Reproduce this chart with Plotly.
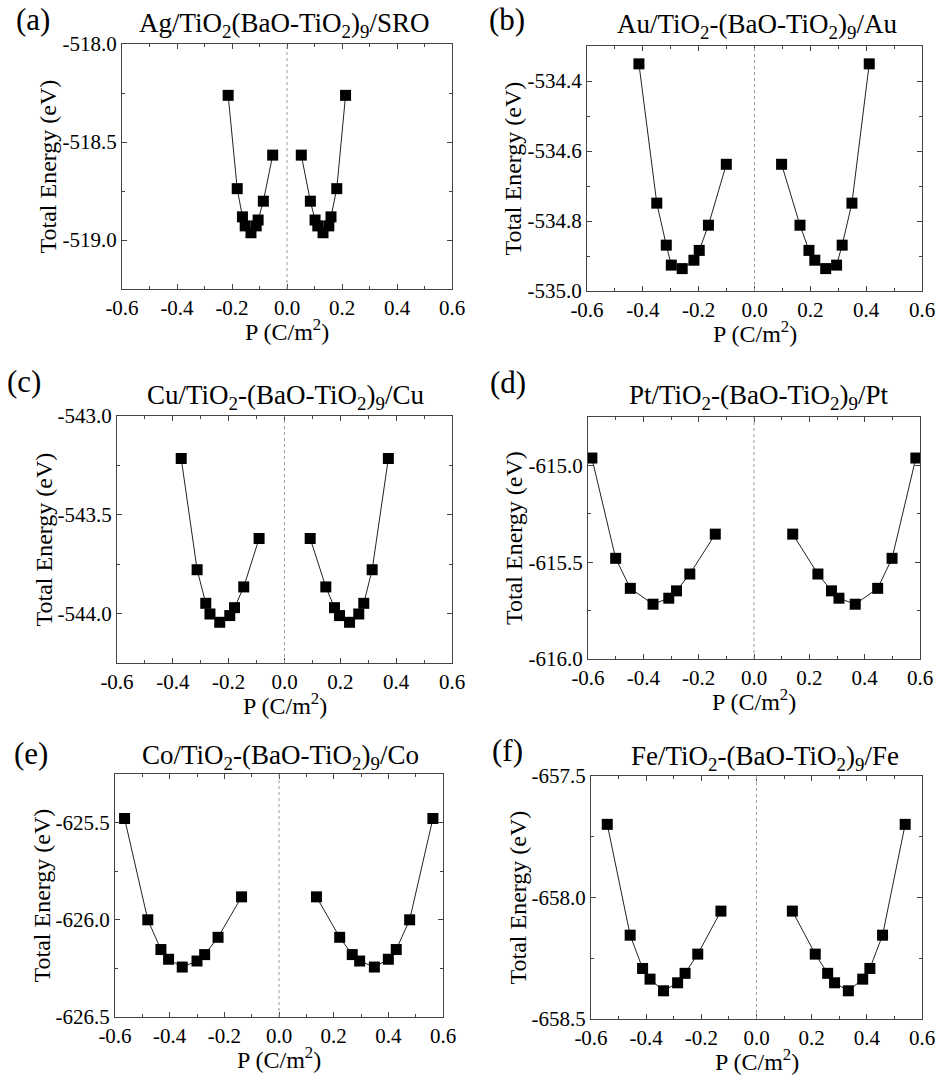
import plotly.graph_objects as go

# ---------------- data ----------------
a_left_p = [-0.214, -0.181, -0.162, -0.152, -0.131, -0.112, -0.105, -0.086, -0.052]
a_left_e = [-518.262, -518.738, -518.882, -518.928, -518.963, -518.928, -518.898, -518.802, -518.567]
a_right_p = [0.052, 0.085, 0.102, 0.112, 0.131, 0.152, 0.160, 0.181, 0.213]
a_right_e = [-518.567, -518.802, -518.898, -518.928, -518.963, -518.928, -518.882, -518.738, -518.262]

b_left_p = [-0.414, -0.350, -0.316, -0.298, -0.259, -0.217, -0.198, -0.165, -0.101]
b_left_e = [-534.351, -534.749, -534.869, -534.926, -534.936, -534.912, -534.884, -534.812, -534.638]
b_right_p = [0.097, 0.163, 0.195, 0.216, 0.255, 0.294, 0.314, 0.349, 0.411]
b_right_e = [-534.638, -534.812, -534.884, -534.912, -534.936, -534.926, -534.869, -534.749, -534.351]

c_left_p = [-0.370, -0.313, -0.282, -0.267, -0.232, -0.196, -0.179, -0.146, -0.091]
c_left_e = [-543.215, -543.778, -543.948, -544.002, -544.044, -544.010, -543.970, -543.865, -543.620]
c_right_p = [0.092, 0.148, 0.179, 0.197, 0.233, 0.266, 0.284, 0.314, 0.372]
c_right_e = [-543.620, -543.865, -543.970, -544.010, -544.044, -544.002, -543.948, -543.778, -543.215]

d_left_p = [-0.586, -0.500, -0.447, -0.365, -0.308, -0.280, -0.232, -0.140]
d_left_e = [-614.962, -615.480, -615.635, -615.717, -615.686, -615.648, -615.561, -615.355]
d_right_p = [0.140, 0.231, 0.280, 0.307, 0.366, 0.447, 0.499, 0.585]
d_right_e = [-615.355, -615.561, -615.648, -615.686, -615.717, -615.635, -615.480, -614.962]

e_left_p = [-0.565, -0.480, -0.432, -0.404, -0.354, -0.300, -0.272, -0.223, -0.137]
e_left_e = [-625.479, -626.000, -626.153, -626.203, -626.243, -626.212, -626.179, -626.090, -625.882]
e_right_p = [0.137, 0.222, 0.268, 0.295, 0.349, 0.400, 0.429, 0.478, 0.563]
e_right_e = [-625.882, -626.090, -626.179, -626.212, -626.243, -626.203, -626.153, -626.000, -625.479]

f_left_p = [-0.541, -0.458, -0.413, -0.386, -0.337, -0.286, -0.259, -0.213, -0.129]
f_left_e = [-657.699, -658.155, -658.292, -658.336, -658.384, -658.351, -658.312, -658.233, -658.056]
f_right_p = [0.130, 0.213, 0.258, 0.283, 0.333, 0.385, 0.411, 0.457, 0.539]
f_right_e = [-658.056, -658.233, -658.312, -658.351, -658.384, -658.336, -658.292, -658.155, -657.699]

x_tickvals = [-0.6, -0.4, -0.2, 0.0, 0.2, 0.4, 0.6]
x_ticktext = ["-0.6", "-0.4", "-0.2", "0.0", "0.2", "0.4", "0.6"]

a_yticks = [-519.0, -518.5, -518.0]
b_yticks = [-535.0, -534.8, -534.6, -534.4]
c_yticks = [-544.0, -543.5, -543.0]
d_yticks = [-616.0, -615.5, -615.0]
e_yticks = [-626.5, -626.0, -625.5]
f_yticks = [-658.5, -658.0, -657.5]

titles = [
    "Ag/TiO<sub>2</sub>(BaO-TiO<sub>2</sub>)<sub>9</sub>/SRO",
    "Au/TiO<sub>2</sub>-(BaO-TiO<sub>2</sub>)<sub>9</sub>/Au",
    "Cu/TiO<sub>2</sub>-(BaO-TiO<sub>2</sub>)<sub>9</sub>/Cu",
    "Pt/TiO<sub>2</sub>-(BaO-TiO<sub>2</sub>)<sub>9</sub>/Pt",
    "Co/TiO<sub>2</sub>-(BaO-TiO<sub>2</sub>)<sub>9</sub>/Co",
    "Fe/TiO<sub>2</sub>-(BaO-TiO<sub>2</sub>)<sub>9</sub>/Fe",
]
labels = ["(a)", "(b)", "(c)", "(d)", "(e)", "(f)"]

series = [
    (a_left_p, a_left_e, a_right_p, a_right_e, a_yticks, [-519.25, -518.0], 0.25),
    (b_left_p, b_left_e, b_right_p, b_right_e, b_yticks, [-535.0, -534.3], 0.1),
    (c_left_p, c_left_e, c_right_p, c_right_e, c_yticks, [-544.25, -543.0], 0.25),
    (d_left_p, d_left_e, d_right_p, d_right_e, d_yticks, [-616.0, -614.75], 0.25),
    (e_left_p, e_left_e, e_right_p, e_right_e, e_yticks, [-626.5, -625.25], 0.25),
    (f_left_p, f_left_e, f_right_p, f_right_e, f_yticks, [-658.5, -657.5], 0.25),
]

# ---------------- layout geometry (pixels) ----------------
W, H = 941, 1079
boxes = [  # x0, x1, y0(top), y1(bottom)
    (122, 452, 44, 289),
    (587, 922, 46, 291),
    (117, 452, 416, 663),
    (588, 920, 417, 659),
    (115, 443, 774, 1017),
    (591, 922, 776, 1019),
]
title_pos = [(284, 25), (757, 26), (285, 397), (758, 397), (280, 757), (765, 758)]
label_pos = [(33, 20), (507, 20), (24, 381), (508, 382), (31, 753), (507, 750)]

FONT = "Liberation Serif"
AX = "#444444"

fig = go.Figure()
annotations = []
shapes = []

for i, (lp, le, rp, re, yt, yr, ymin) in enumerate(series):
    n = "" if i == 0 else str(i + 1)
    xa, ya = "x" + n, "y" + n
    for px, pe in ((lp, le), (rp, re)):
        fig.add_trace(go.Scatter(
            x=px, y=pe, mode="lines+markers", xaxis=xa, yaxis=ya,
            line=dict(color="#222222", width=1),
            marker=dict(symbol="square", size=11, color="black", line=dict(width=0)),
            showlegend=False, hoverinfo="x+y"))
    x0, x1, y0, y1 = boxes[i]
    common = dict(showline=True, linecolor=AX, linewidth=1.2, mirror="ticks",
                  ticks="inside", ticklen=5, tickcolor=AX, tickwidth=1,
                  showgrid=False, zeroline=False, automargin=False,
                  tickfont=dict(family=FONT, size=21, color="black"))
    fig.layout["xaxis" + n] = dict(
        domain=[x0 / W, x1 / W], anchor=ya, range=[-0.6, 0.6],
        tickvals=x_tickvals, ticktext=x_ticktext,
        minor=dict(dtick=0.1, tick0=0, ticks="inside", ticklen=3, tickcolor=AX),
        **common)
    fig.layout["yaxis" + n] = dict(
        domain=[1 - y1 / H, 1 - y0 / H], anchor=xa, range=yr,
        tickvals=yt, ticktext=[f"{v:.1f}" for v in yt],
        minor=dict(dtick=ymin, tick0=yt[0], ticks="inside", ticklen=3, tickcolor=AX),
        **common)
    # dotted zero line
    shapes.append(dict(type="line", xref=xa, yref=ya + " domain", x0=0, x1=0, y0=0, y1=1,
                       line=dict(color="#999999", width=1, dash="dot")))
    # title
    tx, ty = title_pos[i]
    annotations.append(dict(text=titles[i], x=tx / W, y=1 - ty / H, xref="paper", yref="paper",
                            xanchor="center", yanchor="middle", showarrow=False,
                            font=dict(family=FONT, size=27, color="black")))
    lx, ly = label_pos[i]
    annotations.append(dict(text=labels[i], x=lx / W, y=1 - ly / H, xref="paper", yref="paper",
                            xanchor="center", yanchor="middle", showarrow=False,
                            font=dict(family=FONT, size=31, color="black")))
    # y title
    annotations.append(dict(text="Total Energy (eV)", x=(x0 - 74) / W, y=1 - ((y0 + y1) / 2) / H,
                            xref="paper", yref="paper", xanchor="center", yanchor="middle",
                            textangle=-90, showarrow=False,
                            font=dict(family=FONT, size=24, color="black")))
    # x title
    annotations.append(dict(text="P (C/m<sup>2</sup>)", x=((x0 + x1) / 2) / W, y=1 - (y1 + 41) / H,
                            xref="paper", yref="paper", xanchor="center", yanchor="middle",
                            showarrow=False, font=dict(family=FONT, size=24, color="black")))

fig.update_layout(
    width=W, height=H, margin=dict(l=0, r=0, t=0, b=0),
    font=dict(family=FONT, color="black"),
    paper_bgcolor="white", plot_bgcolor="white",
    annotations=annotations, shapes=shapes, showlegend=False,
)

fig.write_html("out.html", config={"displayModeBar": False},
               post_script="document.body.style.margin='0';document.body.style.overflow='hidden';")
